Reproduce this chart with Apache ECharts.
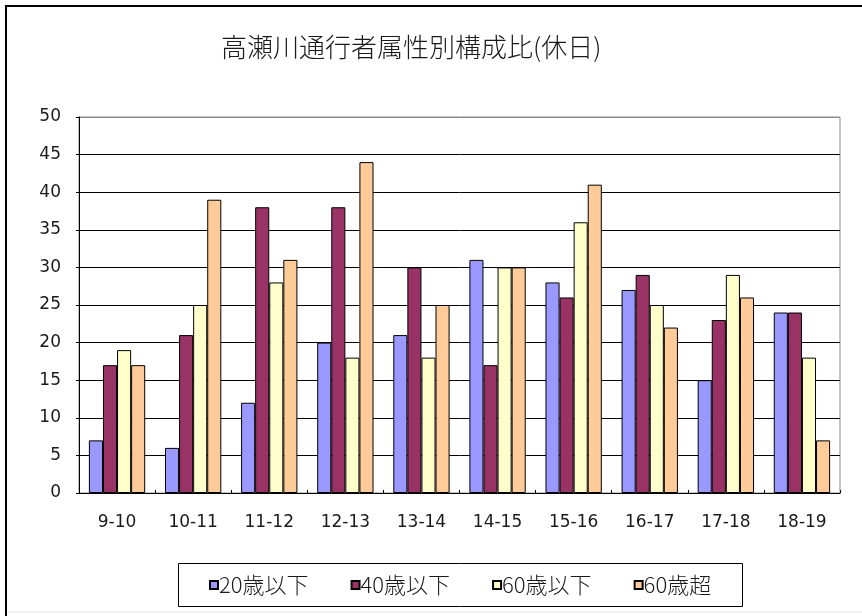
<!DOCTYPE html>
<html>
<head>
<meta charset="utf-8">
<script src="https://cdn.jsdelivr.net/npm/echarts@6/dist/echarts.min.js"></script>
<style>
  html, body { margin: 0; padding: 0; background: #fff; }
  #chart { width: 862px; height: 616px; }
</style>
</head>
<body>
<div id="chart"></div>
<script>
// Time slots (hour ranges) on the category axis
const timeSlots = ['9-10', '10-11', '11-12', '12-13', '13-14', '14-15', '15-16', '16-17', '17-18', '18-19'];
// Share (%) of passers-by by age group
const under20 = [7, 6, 12, 20, 21, 31, 28, 27, 15, 24];
const under40 = [17, 21, 38, 38, 30, 17, 26, 29, 23, 24];
const under60 = [19, 25, 28, 18, 18, 30, 36, 25, 29, 18];
const over60 = [17, 39, 31, 44, 25, 30, 41, 22, 26, 7];
const seriesNames = ['20歳以下', '40歳以下', '60歳以下', '60歳超'];
const yTicks = [0, 5, 10, 15, 20, 25, 30, 35, 40, 45, 50];

const JP_FONT = '"Noto Sans CJK JP", "Noto Sans", sans-serif';
const NUM_FONT = '"DejaVu Sans", "Noto Sans", sans-serif';
const colors = ['#9999FF', '#993366', '#FFFFCC', '#FFCC99'];

const chart = echarts.init(document.getElementById('chart'), null, { renderer: 'canvas' });

// top grid line doubles as the grey plot border
const gridLineColors = yTicks.map((v, i) => (i === yTicks.length - 1 ? '#8a8a8a' : '#000'));

const values = [under20, under40, under60, over60];

chart.setOption({
  backgroundColor: '#fff',
  animation: false,
  color: colors,
  title: {
    text: '高瀬川通行者属性別構成比(休日)',
    left: 221,
    top: 34,
    padding: 0,
    textStyle: { fontFamily: JP_FONT, fontSize: 26, fontWeight: 300, color: '#1a1a1a' }
  },
  legend: {
    data: seriesNames,
    left: 209,
    top: 574,
    padding: 0,
    icon: 'rect',
    itemWidth: 8,
    itemHeight: 8,
    itemGap: 42,
    textStyle: { fontFamily: JP_FONT, fontSize: 22, fontWeight: 300, color: '#1a1a1a', padding: [0, 0, 0, -4] }
  },
  grid: { left: 79, top: 117, right: 22, bottom: 123, show: true, borderColor: '#8a8a8a', borderWidth: 1 },
  xAxis: {
    type: 'category',
    data: timeSlots,
    axisLine: { lineStyle: { color: '#000', width: 1 } },
    axisTick: { show: true, inside: true, length: 3, lineStyle: { color: '#000' } },
    axisLabel: { fontFamily: NUM_FONT, fontSize: 17, color: '#1a1a1a', margin: 21 }
  },
  yAxis: {
    type: 'value',
    min: 0,
    max: 50,
    interval: 5,
    axisLine: { show: true, lineStyle: { color: '#000', width: 1 } },
    axisTick: { show: true, length: 3, lineStyle: { color: '#000' } },
    axisLabel: { fontFamily: NUM_FONT, fontSize: 17, color: '#1a1a1a', margin: 18 },
    splitLine: { show: true, lineStyle: { color: gridLineColors, width: 1 } }
  },
  series: seriesNames.map((name, i) => ({
    name,
    type: 'bar',
    data: values[i],
    barGap: '0%',
    barCategoryGap: '26%',
    itemStyle: { color: colors[i], borderColor: '#000', borderWidth: 1 }
  })),
  graphic: [
    {
      type: 'rect',
      shape: { x: 6, y: 6, width: 900, height: 700 },
      style: { fill: null, stroke: '#000', lineWidth: 2 },
      silent: true
    },
    {
      type: 'line',
      shape: { x1: 8, y1: 612, x2: 862, y2: 612 },
      style: { stroke: '#e4e4e4', lineWidth: 1 },
      silent: true
    },
    {
      type: 'rect',
      shape: { x: 178.5, y: 563.5, width: 564, height: 43 },
      style: { fill: null, stroke: '#000', lineWidth: 1 },
      silent: true
    }
  ]
});
</script>
</body>
</html>
